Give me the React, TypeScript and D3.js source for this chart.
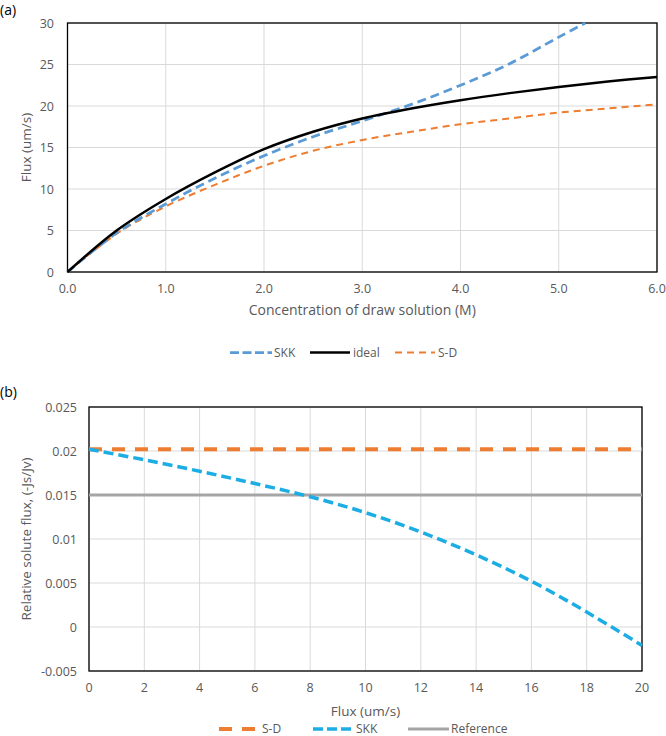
import * as d3 from "d3";

// ---- panel (a) data ----
const concX = [0, 0.5, 1.0, 1.5, 2.0, 2.5, 3.0, 3.5, 4.0, 4.5, 5.0, 5.5, 6.0];
const idealFlux = [0, 5.0, 8.8, 12.0, 14.8, 16.9, 18.5, 19.7, 20.7, 21.55, 22.3, 22.95, 23.5];
const sdFlux = [0, 4.6, 7.9, 10.5, 12.8, 14.6, 15.9, 16.9, 17.8, 18.5, 19.2, 19.7, 20.2];
const skkConcX = [0, 0.5, 1.0, 1.5, 2.0, 2.5, 3.0, 3.5, 4.0, 4.5, 5.0, 5.27];
const skkFlux = [0, 4.7, 8.2, 11.3, 14.0, 16.3, 18.2, 20.2, 22.5, 25.1, 28.3, 30];
const aXTicks = [0, 1, 2, 3, 4, 5, 6];
const aYTicks = [0, 5, 10, 15, 20, 25, 30];

// ---- panel (b) data ----
const fluxX = [0, 2, 4, 6, 8, 10, 12, 14, 16, 18, 20];
const skkRel = [0.0202, 0.019, 0.0177, 0.0163, 0.0148, 0.013, 0.0108, 0.0082, 0.0052, 0.0017, -0.0021];
const sdRel = [0.0202, 0.0202];
const refRel = [0.015, 0.015];
const bXTicks = [0, 2, 4, 6, 8, 10, 12, 14, 16, 18, 20];
const bYTicks = [-0.005, 0, 0.005, 0.01, 0.015, 0.02, 0.025];
const bYLabels = ["-0.005", "0", "0.005", "0.01", "0.015", "0.02", "0.025"];

const FONT = "'Open Sans', sans-serif";
const TXT = "#595959";
const GRID = "#d9d9d9";
const BLUE_A = "#5b9bd5";
const ORANGE = "#ed7d31";
const BLUE_B = "#1cade4";
const GRAY = "#a5a5a5";

const TICK = 12.5;
const TITLE = 13.5;
const LEG = 12;

type Pt = [number, number];

export default function App() {
  // panel (a) scales
  const ax = d3.scaleLinear().domain([0, 6]).range([67.5, 657]);
  const ay = d3.scaleLinear().domain([0, 30]).range([272, 23]);
  const aLine = d3
    .line<Pt>()
    .x((d) => ax(d[0]))
    .y((d) => ay(d[1]))
    .curve(d3.curveCatmullRom.alpha(0.5));

  // panel (b) scales
  const bx = d3.scaleLinear().domain([0, 20]).range([89, 642]);
  const by = d3.scaleLinear().domain([-0.005, 0.025]).range([671, 407]);
  const bLine = d3
    .line<Pt>()
    .x((d) => bx(d[0]))
    .y((d) => by(d[1]))
    .curve(d3.curveCatmullRom.alpha(0.5));

  const ideal = concX.map((c, i) => [c, idealFlux[i]] as Pt);
  const sd = concX.map((c, i) => [c, sdFlux[i]] as Pt);
  const skk = skkConcX.map((c, i) => [c, skkFlux[i]] as Pt);

  const skkB = fluxX.map((f, i) => [f, skkRel[i]] as Pt);
  const sdB = [0, 20].map((f, i) => [f, sdRel[i]] as Pt);
  const refB = [0, 20].map((f, i) => [f, refRel[i]] as Pt);

  return (
    <svg
      width={666}
      height={736}
      style={{ position: "absolute", left: 0, top: 0, background: "#fff" }}
      fontFamily={FONT}
    >
      <rect width={666} height={736} fill="#fff" />

      {/* ---------- (a) ---------- */}
      <text x={0} y={15} fontSize={14} fill="#000">(a)</text>
      <g>
        {aXTicks.map((t) => (
          <line key={"agx" + t} x1={ax(t)} x2={ax(t)} y1={ay(30)} y2={ay(0)} stroke={GRID} strokeWidth={1} />
        ))}
        {aYTicks.map((t) => (
          <line key={"agy" + t} x1={ax(0)} x2={ax(6)} y1={ay(t)} y2={ay(t)} stroke={GRID} strokeWidth={1} />
        ))}
        <rect x={ax(0)} y={ay(30)} width={ax(6) - ax(0)} height={ay(0) - ay(30)} fill="none" stroke="#000" strokeWidth={1.3} />
        {aYTicks.map((t) => (
          <text key={"ayl" + t} x={54} y={ay(t) + 4.5} fontSize={TICK} fill={TXT} textAnchor="end">{t}</text>
        ))}
        {aXTicks.map((t) => (
          <text key={"axl" + t} x={ax(t)} y={293} fontSize={TICK} fill={TXT} textAnchor="middle">{t.toFixed(1)}</text>
        ))}
        <text x={ax(3)} y={315} fontSize={TITLE + 0.5} fill={TXT} textAnchor="middle">Concentration of draw solution (M)</text>
        <text transform={`translate(31,${(ay(0) + ay(30)) / 2}) rotate(-90)`} fontSize={TITLE} fill={TXT} textAnchor="middle">Flux (um/s)</text>

        <path d={aLine(sd) ?? ""} fill="none" stroke={ORANGE} strokeWidth={2} strokeDasharray="7,5" />
        <path d={aLine(skk) ?? ""} fill="none" stroke={BLUE_A} strokeWidth={2.75} strokeDasharray="9,5" />
        <path d={aLine(ideal) ?? ""} fill="none" stroke="#000" strokeWidth={2.5} />

        {/* legend */}
        <line x1={230} x2={272} y1={352.5} y2={352.5} stroke={BLUE_A} strokeWidth={2.75} strokeDasharray="9,3.5" />
        <text x={274} y={357} fontSize={LEG} fill={TXT}>SKK</text>
        <line x1={310} x2={350} y1={352.5} y2={352.5} stroke="#000" strokeWidth={2.5} />
        <text x={353} y={357} fontSize={LEG} fill={TXT}>ideal</text>
        <line x1={395} x2={435} y1={352.5} y2={352.5} stroke={ORANGE} strokeWidth={2} strokeDasharray="7,5" />
        <text x={438} y={357} fontSize={LEG} fill={TXT}>S-D</text>
      </g>

      {/* ---------- (b) ---------- */}
      <text x={0} y={397} fontSize={14} fill="#000">(b)</text>
      <g>
        {bXTicks.map((t) => (
          <line key={"bgx" + t} x1={bx(t)} x2={bx(t)} y1={by(0.025)} y2={by(-0.005)} stroke={GRID} strokeWidth={1} />
        ))}
        {bYTicks.map((t) => (
          <line key={"bgy" + t} x1={bx(0)} x2={bx(20)} y1={by(t)} y2={by(t)} stroke={GRID} strokeWidth={1} />
        ))}
        <rect x={bx(0)} y={by(0.025)} width={bx(20) - bx(0)} height={by(-0.005) - by(0.025)} fill="none" stroke="#000" strokeWidth={1.3} />
        {bYTicks.map((t, i) => (
          <text key={"byl" + t} x={77} y={by(t) + 4.5} fontSize={TICK} fill={TXT} textAnchor="end">{bYLabels[i]}</text>
        ))}
        {bXTicks.map((t) => (
          <text key={"bxl" + t} x={bx(t)} y={692} fontSize={TICK} fill={TXT} textAnchor="middle">{t}</text>
        ))}
        <text x={bx(10)} y={716} fontSize={TITLE} fill={TXT} textAnchor="middle">Flux (um/s)</text>
        <text transform={`translate(31,${(by(-0.005) + by(0.025)) / 2}) rotate(-90)`} fontSize={TITLE} fill={TXT} textAnchor="middle">Relative solute flux, (-Js/Jv)</text>

        <path d={bLine(refB) ?? ""} fill="none" stroke={GRAY} strokeWidth={3} />
        <path d={bLine(sdB) ?? ""} fill="none" stroke={ORANGE} strokeWidth={4} strokeDasharray="13,10" />
        <path d={bLine(skkB) ?? ""} fill="none" stroke={BLUE_B} strokeWidth={3.5} strokeDasharray="10,5" />

        {/* legend */}
        <line x1={219} x2={257} y1={729} y2={729} stroke={ORANGE} strokeWidth={4} strokeDasharray="13,10" />
        <text x={262} y={733} fontSize={LEG} fill={TXT}>S-D</text>
        <line x1={313} x2={351} y1={729} y2={729} stroke={BLUE_B} strokeWidth={3.5} strokeDasharray="10,4" />
        <text x={356} y={733} fontSize={LEG} fill={TXT}>SKK</text>
        <line x1={408} x2={449} y1={729} y2={729} stroke={GRAY} strokeWidth={3} />
        <text x={451} y={733} fontSize={LEG} fill={TXT}>Reference</text>
      </g>
    </svg>
  );
}
